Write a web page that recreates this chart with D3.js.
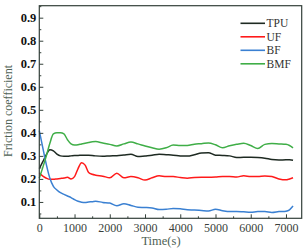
<!DOCTYPE html>
<html><head><meta charset="utf-8">
<script src="https://cdn.jsdelivr.net/npm/d3@7"></script>
<style>body{margin:0;background:#fff}svg{display:block}</style>
</head><body>
<svg id="c" width="305" height="252"></svg>
<script>
const times = [0,100,200,300,400,500,600,700,800,900,1000,1100,1200,1300,1400,1500,1600,1800,2000,2200,2400,2600,2800,3000,3200,3400,3600,3800,4000,4200,4400,4600,4800,5000,5200,5400,5600,5800,6000,6200,6400,6600,6800,7000,7100,7200];
const tpu = [0.245,0.275,0.305,0.327,0.322,0.308,0.300,0.298,0.298,0.300,0.302,0.302,0.303,0.303,0.303,0.302,0.300,0.298,0.300,0.301,0.304,0.307,0.297,0.300,0.303,0.307,0.305,0.303,0.300,0.299,0.305,0.313,0.314,0.303,0.302,0.300,0.293,0.294,0.294,0.293,0.290,0.284,0.282,0.283,0.283,0.281];
const uf  = [0.225,0.212,0.203,0.198,0.198,0.200,0.202,0.204,0.207,0.200,0.210,0.245,0.270,0.260,0.228,0.220,0.216,0.212,0.205,0.225,0.205,0.210,0.205,0.195,0.205,0.214,0.210,0.210,0.206,0.203,0.206,0.207,0.207,0.208,0.210,0.210,0.208,0.214,0.210,0.210,0.213,0.210,0.200,0.196,0.200,0.205];
const bf  = [0.410,0.335,0.262,0.203,0.168,0.152,0.140,0.133,0.126,0.119,0.110,0.103,0.099,0.098,0.100,0.101,0.103,0.098,0.095,0.084,0.092,0.085,0.077,0.076,0.074,0.067,0.068,0.072,0.070,0.066,0.065,0.063,0.061,0.068,0.062,0.058,0.059,0.057,0.055,0.058,0.058,0.054,0.058,0.060,0.066,0.082];
const bmf = [0.203,0.250,0.300,0.355,0.395,0.400,0.400,0.395,0.370,0.352,0.347,0.348,0.352,0.355,0.358,0.361,0.362,0.356,0.350,0.343,0.352,0.360,0.352,0.343,0.335,0.329,0.335,0.347,0.345,0.345,0.351,0.353,0.356,0.348,0.335,0.344,0.350,0.355,0.345,0.332,0.350,0.354,0.352,0.350,0.345,0.335];
const seriesNames = ["TPU","UF","BF","BMF"];
const seriesColors = ["#1e2a22","#ff1a1a","#3a80d2","#3fae47"];
const xTicks = [0,1000,2000,3000,4000,5000,6000,7000];
const yTicks = [0.1,0.2,0.3,0.4,0.5,0.6,0.7,0.8,0.9];
const xTitle = "Time(s)";
const yTitle = "Friction coefficient";

const L=39.3, T=5.7, R=301.7, B=218.3;
const svg = d3.select("#c");
const x = d3.scaleLinear().domain([0,7446]).range([L,R]);
const y = d3.scaleLinear().domain([0.029,0.952]).range([B,T]);
const frame = "#34403a";
const serif = "Liberation Serif, Times New Roman, serif";

const data = [tpu,uf,bf,bmf];
const line = d3.line().x(d=>x(d[0])).y(d=>y(d[1])).curve(d3.curveMonotoneX);
const g = svg.append("g");
data.forEach((s,i)=>{
  g.append("path").datum(times.map((t,j)=>[t,s[j]]))
   .attr("d",line).attr("fill","none").attr("stroke",seriesColors[i])
   .attr("stroke-width",1.5).attr("stroke-linejoin","round");
});

// minor ticks
const yMinor = d3.range(0.05,0.951,0.1);
svg.append("g").attr("transform",`translate(${L},0)`)
  .call(d3.axisLeft(y).tickValues(yMinor).tickSize(-2).tickFormat(""))
  .call(a=>{a.select(".domain").remove();a.selectAll("line").attr("stroke",frame);});
const xMinor = d3.range(500,7446,1000);
svg.append("g").attr("transform",`translate(0,${B})`)
  .call(d3.axisBottom(x).tickValues(xMinor).tickSize(-2).tickFormat(""))
  .call(a=>{a.select(".domain").remove();a.selectAll("line").attr("stroke",frame);});

svg.append("g").attr("transform",`translate(${L},0)`)
  .call(d3.axisLeft(y).tickValues(yTicks).tickSize(-4).tickPadding(3).tickFormat(d3.format(".1f")))
  .call(a=>{a.select(".domain").remove();a.selectAll("line").attr("stroke",frame);
    a.selectAll("text").attr("font-family",serif).attr("font-weight","bold").attr("font-size","12.5px").attr("fill","#111");});
svg.append("g").attr("transform",`translate(0,${B})`)
  .call(d3.axisBottom(x).tickValues(xTicks).tickSize(-4).tickPadding(5).tickFormat(d3.format("d")))
  .call(a=>{a.select(".domain").remove();a.selectAll("line").attr("stroke",frame);
    a.selectAll("text").attr("font-family",serif).attr("font-size","12px").attr("fill","#3a3f3c");});

svg.append("rect").attr("x",L).attr("y",T).attr("width",R-L).attr("height",B-T)
  .attr("fill","none").attr("stroke",frame).attr("stroke-width",1.2);

svg.append("text").attr("x",161).attr("y",245).attr("text-anchor","middle")
  .attr("font-family",serif).attr("font-size","12.5px").attr("fill","#4e6254").text(xTitle);
svg.append("text").attr("transform","translate(11.5,111) rotate(-90)").attr("text-anchor","middle")
  .attr("font-family",serif).attr("font-size","12px").attr("fill","#4e6254").text(yTitle);

const leg = svg.append("g");
seriesNames.forEach((n,i)=>{
  const yy = 23.3 + i*13.5;
  leg.append("line").attr("x1",240.5).attr("x2",265).attr("y1",yy).attr("y2",yy)
    .attr("stroke",seriesColors[i]).attr("stroke-width",1.6);
  leg.append("text").attr("x",266.5).attr("y",yy).attr("dy","0.35em")
    .attr("font-family",serif).attr("font-size","11.5px").attr("fill","#333").text(n);
});
</script>
</body></html>
